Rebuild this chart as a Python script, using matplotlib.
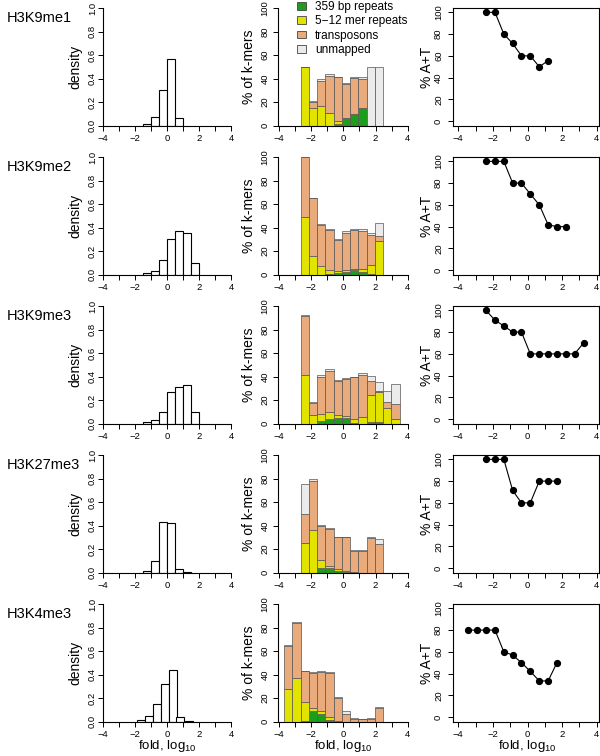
import matplotlib
matplotlib.use('Agg')
import matplotlib.pyplot as plt
from matplotlib.patches import Patch

plt.rcParams['font.family'] = ['Liberation Sans', 'DejaVu Sans']
plt.rcParams['mathtext.fontset'] = 'custom'
plt.rcParams['mathtext.rm'] = 'Liberation Sans'

# ---------------- data ----------------
marks = ['H3K9me1', 'H3K9me2', 'H3K9me3', 'H3K27me3', 'H3K4me3']

# common fold (log10) bin centres used by middle and right panels
fold_bins = [-3.42, -2.91, -2.40, -1.88, -1.37, -0.86, -0.35,
             0.16, 0.68, 1.19, 1.70, 2.21, 2.72, 3.24]

# left column: density histograms (left bin edges, densities)
dens_edges = [
    [-1.5, -1.0, -0.5, 0.0, 0.5],
    [-1.5, -1.0, -0.5, 0.0, 0.5, 1.0, 1.5],
    [-1.5, -1.0, -0.5, 0.0, 0.5, 1.0, 1.5],
    [-1.5, -1.0, -0.5, 0.0, 0.5, 1.0],
    [-1.9, -1.4, -0.9, -0.4, 0.08, 0.57, 1.08],
]
dens_vals = [
    [0.01, 0.073, 0.30, 0.567, 0.062],
    [0.01, 0.03, 0.12, 0.30, 0.37, 0.35, 0.10],
    [0.01, 0.03, 0.10, 0.27, 0.31, 0.33, 0.10],
    [0.01, 0.10, 0.43, 0.42, 0.03, 0.005],
    [0.011, 0.048, 0.149, 0.317, 0.435, 0.039, 0.003],
]

# middle column: % of k-mers, stacked (first bin index into fold_bins)
kmer_first = [2, 2, 2, 2, 0]
kmer_green = [
    [0, 0, 0, 0, 1.5, 6, 9.5, 15, 0, 0],
    [0, 0, 0, 0.5, 1, 2, 3.5, 2, 0.5, 0],
    [0, 0, 2, 4, 5, 4.5, 0.5, 0, 1.7, 1.5, 0, 0],
    [0, 0, 4, 3.7, 1.7, 0.5, 0.3, 0, 0, 0],
    [0, 0, 0.5, 8.8, 6.8, 1.7, 0, 0, 0, 0, 0, 0],
]
kmer_yellow = [
    [50, 15, 16.5, 11, 2.5, 0, 0, 0, 0, 0],
    [49, 16, 7, 3, 2, 2, 1.5, 2.5, 8, 28.5],
    [41, 7, 6.5, 6, 2, 1.5, 3, 5.5, 22.5, 25, 13, 3.7],
    [25, 36.5, 7, 2, 1.4, 0.7, 0.3, 0, 0, 0],
    [28, 37, 16.5, 2.8, 2.3, 2, 0.5, 0, 0, 0, 0, 0],
]
kmer_tp = [
    [0, 5, 21.5, 31.5, 37, 29.5, 31, 25, 0, 0],
    [51, 49, 35.5, 34.5, 26, 31.7, 32.5, 32.5, 25.5, 4.5],
    [50.5, 10.5, 31.5, 35, 29.5, 32, 36, 36, 12, 1, 5, 13],
    [25, 41.5, 28.5, 31.4, 26.7, 28.6, 17.4, 18.5, 29.2, 24.4],
    [36.5, 47, 25.8, 29.8, 33.4, 37.9, 19.5, 6.8, 2.3, 2, 2.3, 11.9],
]
kmer_unmapped = [
    [0, 1, 1.5, 1.5, 0.5, 0.5, 0.8, 1, 50, 50],
    [0, 0.3, 0.5, 1, 1.6, 1, 1, 1.5, 1.5, 11],
    [0.5, 0.5, 1, 1, 0.8, 1, 0.5, 1.2, 4, 8, 10, 17],
    [25, 2, 0.7, 1, 0.8, 0.5, 1.4, 0.6, 0.6, 4],
    [0.3, 1, 0.5, 0.8, 0.5, 0.6, 0.7, 2.2, 0.5, 0.3, 0.5, 0.6],
]

# right column: % A+T
at_first = [2, 2, 2, 2, 0]
at_vals = [
    [100, 100, 80, 71.4, 60, 60, 50, 55.6],
    [100, 100, 100, 80, 80, 70, 60, 41.7, 40, 40],
    [100, 90.9, 85.7, 80, 80, 60, 60, 60, 60, 60, 60, 70],
    [100, 100, 100, 71.4, 60, 60, 80, 80, 80],
    [80, 80, 80, 80, 60, 57.1, 50, 42.1, 33.3, 33.3, 50],
]

legend_labels = ['359 bp repeats', '5\u221212 mer repeats', 'transposons', 'unmapped']
c_green, c_yellow, c_tp, c_un = '#1c9e1c', '#e3e300', '#eaab7c', '#ebebeb'

# ---------------- figure ----------------
W, H = 600, 756
fig = plt.figure(figsize=(W / 100, H / 100), dpi=100)


def px_axes(left, top, width, height):
    return fig.add_axes([left / W, 1 - (top + height) / H, width / W, height / H])


TICK_FS = 6.8
LAB_FS = 10


def style_ticks(ax, ypad):
    ax.set_xticks(range(-4, 5))
    ax.set_xticklabels([str(v).replace('-', '\u2212') if v % 2 == 0 else '' for v in range(-4, 5)])
    ax.tick_params(axis='both', labelsize=TICK_FS, length=3.5, width=0.7, direction='out')
    ax.tick_params(axis='x', pad=2.5)
    ax.tick_params(axis='y', pad=ypad, labelrotation=90)
    for lab in ax.get_yticklabels():
        lab.set_va('center')


row_h = 117.5
for i in range(5):
    top = 8 + 149 * i

    # ---- left: density ----
    ax = px_axes(103.3, top, 132.8, row_h)
    ax.bar(dens_edges[i], dens_vals[i], width=0.5, align='edge',
           facecolor='white', edgecolor='black', linewidth=0.8)
    ax.set_xlim(-4, 4.3)
    ax.set_ylim(0, 1)
    for s in ['top', 'right']:
        ax.spines[s].set_visible(False)
    ax.spines['left'].set_bounds(0, 1)
    ax.spines['bottom'].set_bounds(-4, 4)
    for s in ['left', 'bottom']:
        ax.spines[s].set_linewidth(0.8)
    ax.set_yticks([0, 0.2, 0.4, 0.6, 0.8, 1.0])
    ax.set_yticklabels(['0.0', '0.2', '0.4', '0.6', '0.8', '1.0'])
    style_ticks(ax, 1.0)
    fig.text(75 / W, 1 - (top + 59) / H, 'density', rotation=90,
             ha='center', va='center', fontsize=LAB_FS)
    fig.text(7 / W, 1 - (top + 10) / H, marks[i], ha='left', va='center', fontsize=10.5)

    # ---- middle: stacked % of k-mers ----
    ax = px_axes(277.7, top, 134.9, row_h)
    n = len(kmer_green[i])
    xs = fold_bins[kmer_first[i]:kmer_first[i] + n]
    bottom = [0.0] * n
    for vals, col in [(kmer_green[i], c_green), (kmer_yellow[i], c_yellow),
                      (kmer_tp[i], c_tp), (kmer_unmapped[i], c_un)]:
        ax.bar(xs, vals, width=0.512, bottom=bottom, color=col,
               edgecolor='#555555', linewidth=0.5)
        bottom = [b + v for b, v in zip(bottom, vals)]
    ax.set_xlim(-4.08, 4.3)
    ax.set_ylim(0, 100)
    for s in ['top', 'right']:
        ax.spines[s].set_visible(False)
    ax.spines['left'].set_bounds(0, 100)
    ax.spines['bottom'].set_bounds(-4, 4)
    for s in ['left', 'bottom']:
        ax.spines[s].set_linewidth(0.8)
    ax.set_yticks(range(0, 101, 20))
    style_ticks(ax, 2.5)
    fig.text(249 / W, 1 - (top + 59) / H, '% of k-mers', rotation=90,
             ha='center', va='center', fontsize=LAB_FS)
    if i == 0:
        handles = [Patch(facecolor=c, edgecolor='#444444', linewidth=0.6)
                   for c in [c_green, c_yellow, c_tp, c_un]]
        ax.legend(handles, legend_labels, loc='upper left',
                  bbox_to_anchor=(297 / W, 1 - 1.0 / H), bbox_transform=fig.transFigure,
                  frameon=False, fontsize=8.5, handlelength=0.78, handleheight=0.62,
                  handletextpad=0.75, labelspacing=0.2, borderpad=0, borderaxespad=0)

    # ---- right: % A+T ----
    ax = px_axes(452.8, top, 146, row_h)
    n = len(at_vals[i])
    xs = fold_bins[at_first[i]:at_first[i] + n]
    ax.plot(xs, at_vals[i], color='black', linewidth=0.8, marker='o',
            markersize=4.2, markerfacecolor='black', markeredgecolor='black')
    ax.set_xlim(-4.32, 4.12)
    ax.set_ylim(-4, 104)
    for s in ax.spines.values():
        s.set_linewidth(0.8)
    ax.set_yticks(range(0, 101, 20))
    style_ticks(ax, 3.5)
    fig.text(427 / W, 1 - (top + 59) / H, '% A+T', rotation=90,
             ha='center', va='center', fontsize=LAB_FS)

# x labels on bottom row
for cx in [167.3, 343.4, 527.5]:
    fig.text(cx / W, 1 - 746 / H, 'fold, log$_{\\mathregular{10}}$',
             ha='center', va='center', fontsize=9.5)

fig.savefig('out.png', dpi=100)
